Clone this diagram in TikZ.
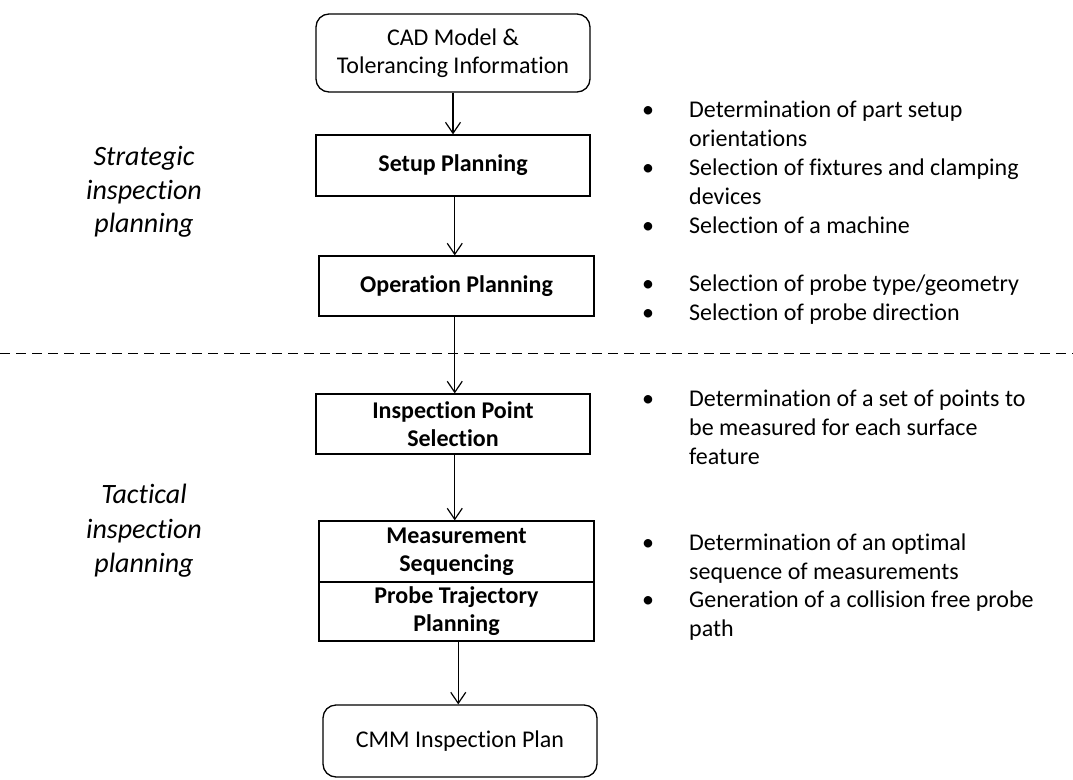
\documentclass[tikz,border=0pt]{standalone}
\usepackage{fontspec}
\setmainfont{Carlito}[Ligatures={NoCommon}]
\usetikzlibrary{arrows.meta,calc}

% vertical connector between two stacked boxes, placed halfway between their centres
\newcommand\vlink[2]{%
  \draw[arr] ($(#1.south)!.5!(#1.south -| #2.north)$) -- ($(#2.north)!.5!(#2.north -| #1.south)$);}

\begin{document}
\begin{tikzpicture}[x=1pt,y=-1pt,
  stepbox/.style={draw, line width=1.3pt, inner sep=0pt, align=center,
    font=\fontsize{24}{28}\selectfont\bfseries},
  endbox/.style={stepbox, rounded corners=13pt, font=\fontsize{24}{28}\selectfont},
  arr/.style={-{Straight Barb[length=11pt,width=15pt]}, line width=1.2pt},
  note/.style={anchor=base west, inner sep=0pt, font=\fontsize{24}{29}\selectfont},
  bulletmark/.style={anchor=base, inner sep=0pt, font=\fontsize{24}{29}\selectfont},
  phase/.style={anchor=base, inner sep=0pt, font=\fontsize{28}{34}\selectfont\itshape},
  divider/.style={line width=1pt, dash pattern=on 10pt off 6pt}]

\useasboundingbox (0,0) rectangle (1073,779);

% main flow
\node[endbox, minimum width=274pt, minimum height=78pt] (cad) at (453,53)
  {CAD Model \&\\Tolerancing Information};
\node[stepbox, minimum width=274pt, minimum height=61pt] (setup) at (453,165.5)
  {Setup Planning};
\node[stepbox, minimum width=275pt, minimum height=60pt] (oper) at (456.5,286)
  {Operation Planning};
\node[stepbox, minimum width=274pt, minimum height=60pt] (insp) at (453,424)
  {Inspection Point\\Selection};
\node[stepbox, minimum width=275pt, minimum height=61pt] (meas) at (456.5,551.5)
  {Measurement\\Sequencing};
\node[stepbox, minimum width=275pt, minimum height=59pt] (traj) at (456.5,611.5)
  {Probe Trajectory\\Planning};
\node[endbox, minimum width=274pt, minimum height=72pt] (cmm) at (460,741)
  {CMM Inspection Plan};

\vlink{cad}{setup}
\vlink{setup}{oper}
\vlink{oper}{insp}
\vlink{insp}{meas}
\vlink{traj}{cmm}

% boundary between the two planning levels
\coordinate (divl) at (0,353);
\coordinate (divr) at (1073,353);
\draw[divider] (divl) -- (divr);

% level labels
\foreach \y/\t [count=\i] in {165/Strategic, 199/inspection, 232/planning}
  \node[phase] (strat\i) at (144,\y) {\t};
\foreach \y/\t [count=\i] in {503/Tactical, 538/inspection, 572/planning}
  \node[phase] (tact\i) at (144,\y) {\t};

% task descriptions
\foreach \y/\t [count=\i] in {
    117/{Determination of part setup},
    146/{orientations},
    175/{Selection of fixtures and clamping},
    204/{devices},
    233/{Selection of a machine},
    291/{Selection of probe type/geometry},
    320/{Selection of probe direction},
    406/{Determination of a set of points to},
    435/{be measured for each surface},
    464/{feature},
    550/{Determination of an optimal},
    579/{sequence of measurements},
    607/{Generation of a collision free probe},
    636/{path}}
  \node[note] (txt\i) at (689,\y) {\t};
\foreach \y [count=\i] in {117,175,233,291,320,406,550,607}
  \node[bulletmark] (dot\i) at (648,\y) {•};

\end{tikzpicture}
\end{document}
